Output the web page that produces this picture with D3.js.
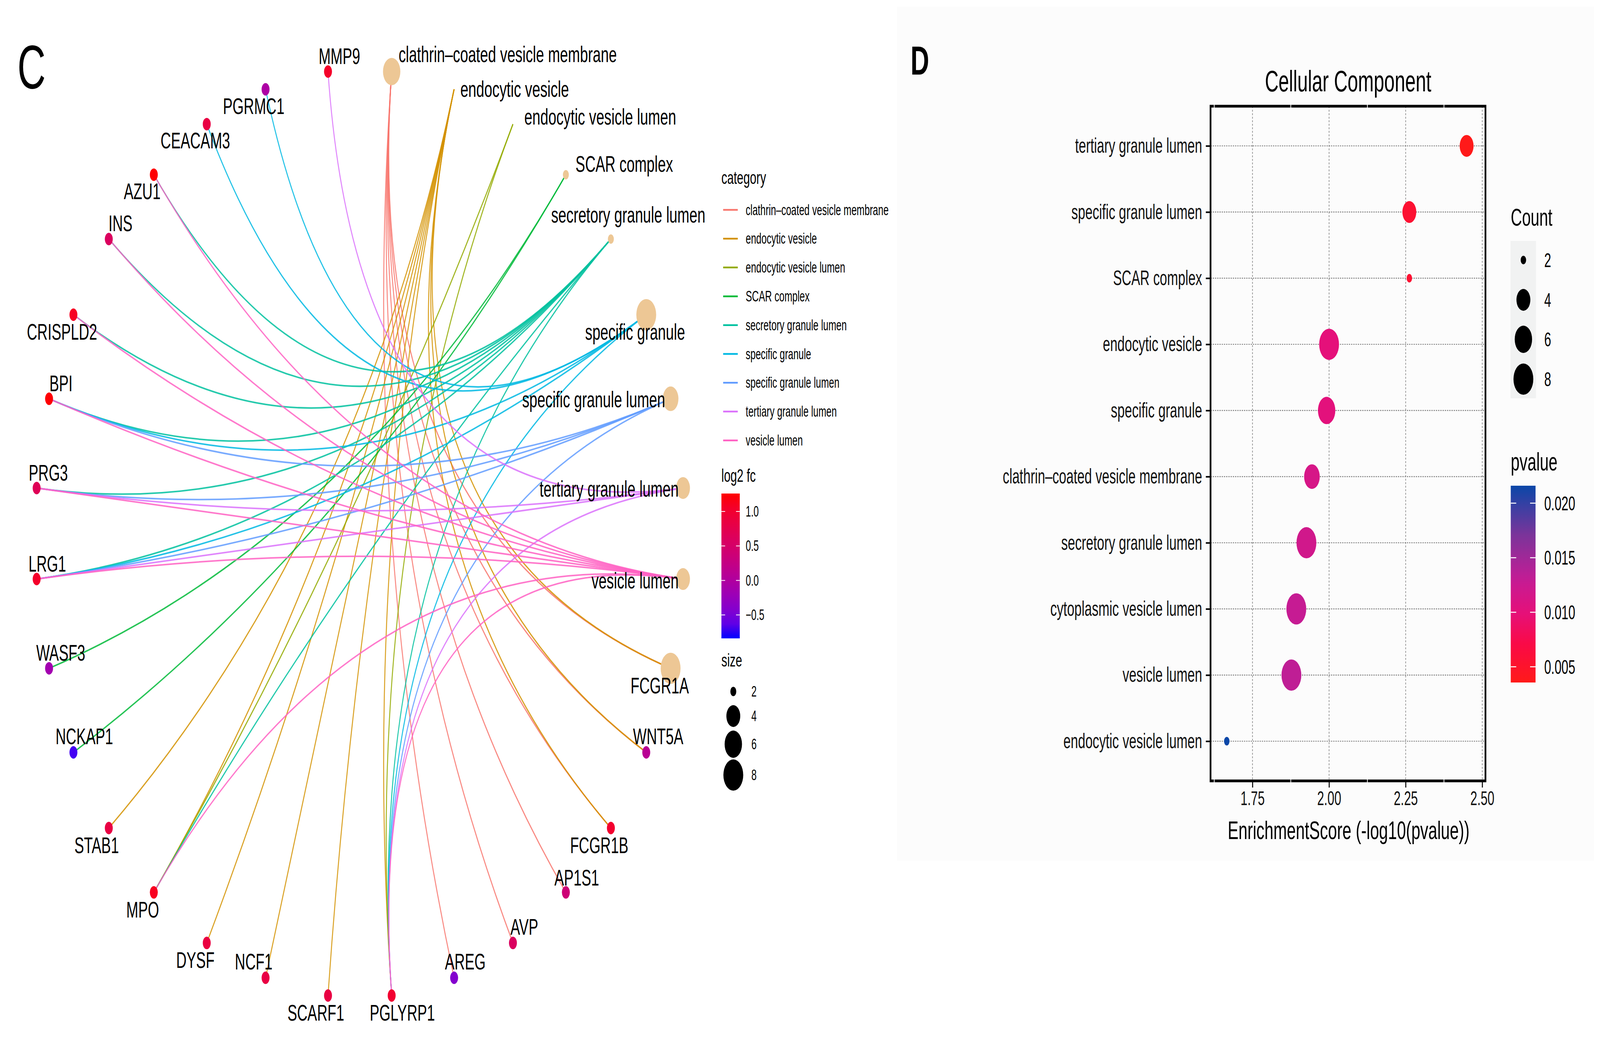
<!DOCTYPE html>
<html>
<head>
<meta charset="utf-8">
<style>
  html, body { margin: 0; padding: 0; background: #fff; overflow: hidden; }
  svg { display: block; width: 100vw; height: 100vh; }
  text { font-family: "Liberation Sans", Arial, Helvetica, sans-serif; fill: #000; }
</style>
</head>
<body>
<svg viewBox="0 0 6454 2679" preserveAspectRatio="none"></svg>
<script src="https://d3js.org/d3.v7.min.js"></script>
<script>

var svg = d3.select("svg");

// ---------- panel C : gene-concept network ----------
var categories = ["clathrin\u2013coated vesicle membrane", "endocytic vesicle", "endocytic vesicle lumen",
  "SCAR complex", "secretory granule lumen", "specific granule", "specific granule lumen",
  "tertiary granule lumen", "vesicle lumen"];
var categorySize = [6, null, null, 2, 2, 8, 5, 4, 4]; // node size as drawn (null = not visible)

var genes = ["FCGR1A", "WNT5A", "FCGR1B", "AP1S1", "AVP", "AREG", "PGLYRP1", "SCARF1", "NCF1", "DYSF",
  "MPO", "STAB1", "NCKAP1", "WASF3", "LRG1", "PRG3", "BPI", "CRISPLD2", "INS", "AZU1", "CEACAM3",
  "PGRMC1", "MMP9"];
var geneLogFC = [null, 0.1, 1.02, 0.38, 0.59, -0.42, 1.0, 0.84, 0.84, 0.87, 1.12, 0.84, -0.74, -0.15,
  1.05, 0.67, 1.25, 1.1, 0.6, 1.25, 0.84, -0.04, 1.05];
var geneSize = [8, null, null, null, null, null, null, null, null, null, null, null, null, null, null,
  null, null, null, null, null, null, null, null];
// indices into categories
var geneTerms = [[0, 1], [0, 1], [0, 1], [0], [0], [0], [1, 2, 4, 5, 6, 7, 8], [1], [1], [1],
  [1, 2, 4, 8], [1], [3], [3], [4, 5, 6, 7, 8], [4, 6, 7, 8], [4, 5, 6, 8], [4, 8], [4, 8], [4, 8],
  [5], [5], [7]];

var fcTicks = [-0.5, 0, 0.5, 1.0];
var sizeBreaks = [2, 4, 6, 8];

// ---------- panel D : dot plot ----------
var ccTerms = ["tertiary granule lumen", "specific granule lumen", "SCAR complex", "endocytic vesicle",
  "specific granule", "clathrin\u2013coated vesicle membrane", "secretory granule lumen",
  "cytoplasmic vesicle lumen", "vesicle lumen", "endocytic vesicle lumen"];
var ccScore = [2.449, 2.262, 2.262, 2.0, 1.992, 1.944, 1.926, 1.893, 1.877, 1.666];
var ccPvalue = [0.0036, 0.0055, 0.0055, 0.0100, 0.0102, 0.0114, 0.0119, 0.0128, 0.0133, 0.0216];
var ccCount = [4, 4, 2, 8, 6, 5, 8, 8, 8, 2];
var xTicks = [1.75, 2.00, 2.25, 2.50];
var xMinor = [1.625, 1.875, 2.125, 2.375];
var pTicks = [0.005, 0.010, 0.015, 0.020];

// label placement for the network (ggrepel result), dx, dy(baseline), anchor
var labelNudge = {
  "clathrin\u2013coated vesicle membrane": [28, -24, "start"],
  "endocytic vesicle": [25, 19, "start"],
  "endocytic vesicle lumen": [46, 1, "start"],
  "SCAR complex": [39, -7, "start"],
  "secretory granule lumen": [70, -42, "middle"],
  "specific granule": [-45, 64, "middle"],
  "specific granule lumen": [-22, 22, "end"],
  "tertiary granule lumen": [-18, 22, "end"],
  "vesicle lumen": [-18, 24, "end"],
  "FCGR1A": [-44, 64], "WNT5A": [48, -21], "FCGR1B": [-47, 64], "AP1S1": [44, -18],
  "AVP": [46, -21], "AREG": [45, -21], "PGLYRP1": [43, 64], "SCARF1": [-49, 64],
  "NCF1": [-48, -21], "DYSF": [-46, 64], "MPO": [-45, 64], "STAB1": [-49, 64],
  "NCKAP1": [44, -21], "WASF3": [47, -20], "LRG1": [43, -19], "PRG3": [47, -19],
  "BPI": [48, -19], "CRISPLD2": [-46, 64], "INS": [47, -20], "AZU1": [-47, 63],
  "CEACAM3": [-46, 62], "PGRMC1": [-48, 63], "MMP9": [46, -19]
};

var catColor = d3.scaleOrdinal(categories,
  ["#F8766D", "#D39200", "#93AA00", "#00BA38", "#00C19F", "#00B9E3", "#619CFF", "#DB72FB", "#FF61C3"]);
var fcColor = d3.scaleLinear().domain([-0.84, 1.26]).range(["blue", "red"]).interpolate(d3.interpolateLab);
var nodeR = d3.scaleLinear().domain(sizeBreaks).range([12, 28, 35, 40]);
var beige = "#EDC795";

// circular layout
var nodes = categories.map(function(c, i) { return {name: c, cat: true, size: categorySize[i]}; })
  .concat(genes.map(function(g, i) { return {name: g, cat: false, fc: geneLogFC[i], size: geneSize[i]}; }));
var step = 2 * Math.PI / nodes.length;
nodes.forEach(function(d, k) {
  var a = step / 2 + k * step;
  d.ux = Math.sin(a); d.uy = Math.cos(a);
});
var cx = d3.scaleLinear().domain([-1, 1]).range([141.5, 2761.5]),
    cy = d3.scaleLinear().domain([-1, 1]).range([2555.5, 177.5]);

var edges = [];
genes.forEach(function(g, i) {
  geneTerms[i].forEach(function(t) {
    edges.push({s: nodes[t], t: nodes[categories.length + i], cat: categories[t]});
  });
});

var defs = svg.append("defs");
var gC = svg.append("g");

gC.append("g").selectAll("path")
  .data(edges)
  .join("path")
    .attr("d", function(e) {
      var p = d3.path();
      p.moveTo(cx(e.s.ux), cy(e.s.uy));
      p.quadraticCurveTo(cx(0), cy(0), cx(e.t.ux), cy(e.t.uy));
      return p.toString();
    })
    .attr("fill", "none")
    .attr("stroke", function(e) { return catColor(e.cat); })
    .attr("stroke-width", 4)
    .attr("stroke-opacity", 0.85);

gC.append("g").selectAll("circle")
  .data(nodes.filter(function(d) { return d.cat ? d.size != null : true; }))
  .join("circle")
    .attr("cx", function(d) { return cx(d.ux); })
    .attr("cy", function(d) { return cy(d.uy); })
    .attr("r", function(d) { return d.size != null ? nodeR(d.size) : 16; })
    .attr("fill", function(d) { return d.cat || d.fc == null ? beige : fcColor(d.fc); });

gC.append("g").selectAll("text")
  .data(nodes)
  .join("text")
    .attr("x", function(d) { return cx(d.ux) + labelNudge[d.name][0]; })
    .attr("y", function(d) { return cy(d.uy) + labelNudge[d.name][1]; })
    .attr("text-anchor", function(d) { return labelNudge[d.name][2] || "middle"; })
    .attr("font-size", 58)
    .text(function(d) { return d.name; });

svg.append("text").attr("x", 70).attr("y", 226).attr("font-size", 158).text("C");

// legend C
var lg = svg.append("g");
lg.append("text").attr("x", 2910).attr("y", 471).attr("font-size", 47).text("category");
var catKey = lg.selectAll("g.key").data(categories).join("g")
  .attr("transform", function(d, i) { return "translate(0," + (537.5 + i * 73.8) + ")"; });
catKey.append("line").attr("x1", 2917).attr("x2", 2976)
  .attr("stroke", function(d) { return catColor(d); }).attr("stroke-width", 4.5);
catKey.append("text").attr("x", 3008).attr("y", 13).attr("font-size", 38).text(function(d) { return d; });

lg.append("text").attr("x", 2910).attr("y", 1234).attr("font-size", 47).text("log2 fc");
var fcBar = d3.scaleLinear().domain([-0.84, 1.26]).range([1635, 1264]);
var gradC = defs.append("linearGradient").attr("id", "gradC")
  .attr("x1", 0).attr("x2", 0).attr("y1", 1).attr("y2", 0);
d3.range(0, 1.0001, 0.1).forEach(function(t) {
  gradC.append("stop").attr("offset", t).attr("stop-color", fcColor(-0.84 + t * 2.1));
});
lg.append("rect").attr("x", 2910).attr("y", 1264).attr("width", 74).attr("height", 371).attr("fill", "url(#gradC)");
fcTicks.forEach(function(v) {
  var y = fcBar(v);
  lg.append("line").attr("x1", 2910).attr("x2", 2925).attr("y1", y).attr("y2", y).attr("stroke", "#fff").attr("stroke-width", 2);
  lg.append("line").attr("x1", 2969).attr("x2", 2984).attr("y1", y).attr("y2", y).attr("stroke", "#fff").attr("stroke-width", 2);
  lg.append("text").attr("x", 3008).attr("y", y + 13).attr("font-size", 38).text(d3.format(".1f")(v));
});

lg.append("text").attr("x", 2910).attr("y", 1707).attr("font-size", 47).text("size");
var sizeY = [1771, 1834, 1906, 1985];
sizeBreaks.forEach(function(s, i) {
  lg.append("circle").attr("cx", 2958).attr("cy", sizeY[i]).attr("r", nodeR(s)).attr("fill", "#000");
  lg.append("text").attr("x", 3031).attr("y", sizeY[i] + 13).attr("font-size", 38).text(s);
});

// ---------- panel D ----------
var gD = svg.append("g");
gD.append("rect").attr("x", 3618).attr("y", 17).attr("width", 2812).attr("height", 2187).attr("fill", "#fcfcfc");
gD.append("text").attr("x", 3673).attr("y", 191).attr("font-size", 104).attr("font-weight", "bold").text("D");

var x = d3.scaleLinear().domain([1.613, 2.5105]).range([4883, 5992]);
var y = d3.scalePoint().domain(ccTerms).range([272, 2000]).padding(0.6);
var countR = d3.scaleLinear().domain(sizeBreaks).range([11, 28, 35, 40]);
var pColor = d3.scaleLinear()
  .domain([0.0036, 0.007, 0.010, 0.013, 0.017, 0.0216])
  .range(["#ff1a1a", "#fa0a45", "#e5107a", "#c41c95", "#7d349a", "#0b47a8"]);

// grid
gD.append("g").selectAll("line").data(ccTerms).join("line")
  .attr("x1", 4883).attr("x2", 5992).attr("y1", function(d) { return y(d); }).attr("y2", function(d) { return y(d); })
  .attr("stroke", "#808080").attr("stroke-width", 2.4).attr("stroke-dasharray", "5,4");
gD.append("g").selectAll("line").data(xTicks).join("line")
  .attr("x1", function(d) { return x(d); }).attr("x2", function(d) { return x(d); }).attr("y1", 272).attr("y2", 2000)
  .attr("stroke", "#808080").attr("stroke-width", 2.4).attr("stroke-dasharray", "5,4");

// points
gD.append("g").selectAll("circle").data(ccTerms).join("circle")
  .attr("cx", function(d, i) { return x(ccScore[i]); })
  .attr("cy", function(d) { return y(d); })
  .attr("r", function(d, i) { return countR(ccCount[i]); })
  .attr("fill", function(d, i) { return pColor(ccPvalue[i]); });

// border
gD.append("rect").attr("x", 4883).attr("y", 272).attr("width", 1109).attr("height", 1728)
  .attr("fill", "none").attr("stroke", "#000").attr("stroke-width", 7);
xMinor.forEach(function(v) {
  gD.append("line").attr("x1", x(v)).attr("x2", x(v)).attr("y1", 267).attr("y2", 277).attr("stroke", "#fff").attr("stroke-width", 3);
  gD.append("line").attr("x1", x(v)).attr("x2", x(v)).attr("y1", 1995).attr("y2", 2005).attr("stroke", "#fff").attr("stroke-width", 3);
});

// axes
var xAxis = gD.append("g").attr("transform", "translate(0,2003)")
  .call(d3.axisBottom(x).tickValues(xTicks).tickFormat(d3.format(".2f")).tickSize(14).tickPadding(10));
var yAxis = gD.append("g").attr("transform", "translate(4880,0)")
  .call(d3.axisLeft(y).tickSize(16).tickPadding(15));
[xAxis, yAxis].forEach(function(a) {
  a.select(".domain").remove();
  a.selectAll(".tick line").attr("stroke", "#000").attr("stroke-width", 4);
  a.selectAll("text").attr("font-family", null).style("fill", "#111");
});
xAxis.selectAll("text").attr("font-size", 50);
yAxis.selectAll("text").attr("font-size", 53);

gD.append("text").attr("x", 5438).attr("y", 234).attr("text-anchor", "middle").attr("font-size", 76).text("Cellular Component");
gD.append("text").attr("x", 5440).attr("y", 2149).attr("text-anchor", "middle").attr("font-size", 65).text("EnrichmentScore (-log10(pvalue))");

// legend D
gD.append("text").attr("x", 6094).attr("y", 578).attr("font-size", 63).text("Count");
gD.append("rect").attr("x", 6093).attr("y", 617).attr("width", 103).attr("height", 403).attr("fill", "#f1f2f2");
var countY = [666, 768, 869, 971];
sizeBreaks.forEach(function(s, i) {
  gD.append("circle").attr("cx", 6145).attr("cy", countY[i]).attr("r", countR(s)).attr("fill", "#000");
  gD.append("text").attr("x", 6229).attr("y", countY[i] + 18).attr("font-size", 50).text(s);
});

gD.append("text").attr("x", 6094).attr("y", 1205).attr("font-size", 64).text("pvalue");
var pBar = d3.scaleLinear().domain([0.00356, 0.0216]).range([1748, 1244]);
var gradD = defs.append("linearGradient").attr("id", "gradD")
  .attr("x1", 0).attr("x2", 0).attr("y1", 1).attr("y2", 0);
d3.range(0, 1.0001, 0.05).forEach(function(t) {
  gradD.append("stop").attr("offset", t).attr("stop-color", pColor(0.00356 + t * (0.0216 - 0.00356)));
});
gD.append("rect").attr("x", 6094).attr("y", 1244).attr("width", 100).attr("height", 504).attr("fill", "url(#gradD)");
pTicks.forEach(function(v) {
  var yy = pBar(v);
  gD.append("line").attr("x1", 6094).attr("x2", 6116).attr("y1", yy).attr("y2", yy).attr("stroke", "#fff").attr("stroke-width", 2.5);
  gD.append("line").attr("x1", 6172).attr("x2", 6194).attr("y1", yy).attr("y2", yy).attr("stroke", "#fff").attr("stroke-width", 2.5);
  gD.append("text").attr("x", 6229).attr("y", yy + 18).attr("font-size", 50).text(d3.format(".3f")(v));
});

</script>
</body>
</html>
